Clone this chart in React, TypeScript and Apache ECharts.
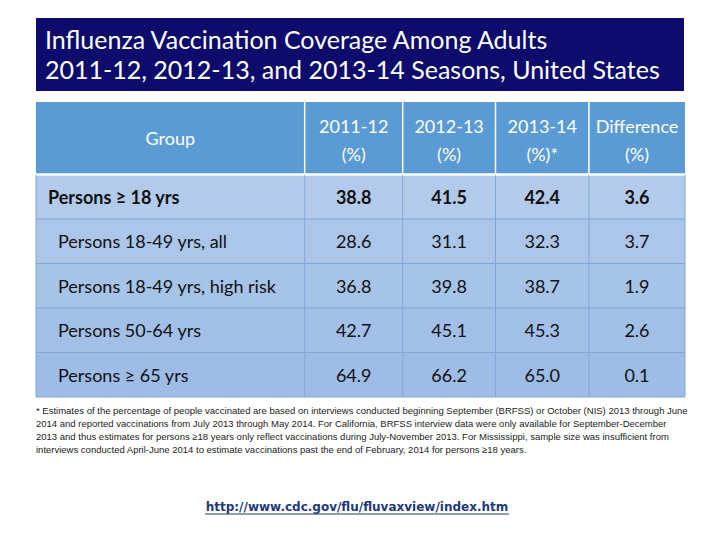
import React, { useEffect, useRef } from "react";
import * as echarts from "echarts";

// ---------- data ----------
const titleText = "Influenza Vaccination Coverage Among Adults\n2011-12, 2012-13, and 2013-14 Seasons, United States";
const columnHeaders = ["Group", "2011-12\n(%)", "2012-13\n(%)", "2013-14\n(%)*", "Difference\n(%)"];
const groups = [
  "Persons ≥ 18 yrs",
  "Persons 18-49 yrs, all",
  "Persons 18-49 yrs, high risk",
  "Persons 50-64 yrs",
  "Persons ≥ 65 yrs",
];
const season2011 = [38.8, 28.6, 36.8, 42.7, 64.9];
const season2012 = [41.5, 31.1, 39.8, 45.1, 66.2];
const season2013 = [42.4, 32.3, 38.7, 45.3, 65.0];
const difference = [3.6, 3.7, 1.9, 2.6, 0.1];
const footnoteLines = [
  "* Estimates of the percentage of people vaccinated are based on interviews conducted beginning September (BRFSS) or October (NIS) 2013 through June",
  "2014 and reported vaccinations from July 2013 through May 2014. For California, BRFSS interview data were only available for September-December",
  "2013 and thus estimates for persons ≥18 years only reflect vaccinations during July-November 2013. For Mississippi, sample size was insufficient from",
  "interviews conducted April-June 2014 to estimate vaccinations past the end of February, 2014 for persons ≥18 years.",
];
const linkText = "http://www.cdc.gov/flu/fluvaxview/index.htm";

// ---------- layout (table units) ----------
const colEdges = [0, 41.4, 56.5, 70.8, 85.2, 100];
const rowEdges = [0, 1.63, 2.63, 3.63, 4.63, 5.63, 6.63];
const bodyFills = ["#B3CBEB", "#ABC6E9", "#A6C3E8", "#A1BFE7", "#9DBCE6"];
const FONT = "Lato";

const valueCols = [season2011, season2012, season2013, difference];

function cellText(col: number, row: number): string {
  if (row === 0) return columnHeaders[col];
  if (col === 0) return groups[row - 1];
  return valueCols[col - 1][row - 1].toFixed(1);
}

const cells: number[][] = [];
for (let r = 0; r <= groups.length; r++) {
  for (let c = 0; c < columnHeaders.length; c++) cells.push([c, r]);
}

export default function App() {
  const ref = useRef<HTMLDivElement>(null);
  useEffect(() => {
    if (!ref.current) return;
    const chart = echarts.init(ref.current, null, { renderer: "svg" });
    const option: any = {
      animation: false,
      backgroundColor: "#ffffff",
      title: {
        text: titleText,
        left: 45,
        top: 24,
        padding: 0,
        textStyle: {
          color: "#ffffff",
          fontFamily: FONT,
          fontSize: 25,
          fontWeight: "normal",
          lineHeight: 30,
        },
      },
      grid: { left: 36, top: 102, width: 649, height: 295, show: false },
      xAxis: { type: "value", min: 0, max: 100, show: false },
      yAxis: { type: "value", min: 0, max: 6.63, inverse: true, show: false },
      graphic: [
        {
          type: "rect",
          z: 0,
          shape: { x: 36, y: 18, width: 648, height: 73 },
          style: { fill: "#0D0C6C" },
        },
        {
          type: "text",
          x: 36,
          y: 404,
          style: {
            text: footnoteLines.join("\n"),
            fontFamily: "Liberation Sans",
            fontSize: 9.5,
            lineHeight: 13,
            fill: "#222222",
          },
        },
        {
          type: "text",
          x: 357,
          y: 507,
          style: {
            text: linkText,
            fontFamily: "DejaVu Sans",
            fontSize: 12,
            fontWeight: "bold",
            fill: "#1F3A7A",
            align: "center",
            verticalAlign: "middle",
          },
        },
        {
          type: "line",
          shape: { x1: 205, y1: 514, x2: 509, y2: 514 },
          style: { stroke: "#1F3A7A", lineWidth: 1 },
        },
      ],
      series: [
        {
          type: "custom",
          coordinateSystem: "cartesian2d",
          data: cells,
          clip: false,
          renderItem: (params: any, api: any) => {
            const col = api.value(0);
            const row = api.value(1);
            const p0 = api.coord([colEdges[col], rowEdges[row]]);
            const p1 = api.coord([colEdges[col + 1], rowEdges[row + 1]]);
            const x = p0[0], y = p0[1], w = p1[0] - p0[0], h = p1[1] - p0[1];
            const header = row === 0;
            const line = "#80A6D7";
            const children: any[] = [
              {
                type: "rect",
                shape: { x, y, width: w, height: h },
                style: { fill: header ? "#5B9BD5" : bodyFills[row - 1] },
              },
            ];
            if (col > 0) {
              children.push({
                type: "line",
                shape: { x1: x, y1: y, x2: x, y2: y + h },
                style: { stroke: header ? "#FFFFFF" : line, lineWidth: header ? 1.5 : 1 },
              });
            }
            if (row === 1) {
              children.push({
                type: "line",
                shape: { x1: x, y1: y, x2: x + w, y2: y },
                style: { stroke: "#FFFFFF", lineWidth: 2.5 },
              });
            } else if (row > 1) {
              children.push({
                type: "line",
                shape: { x1: x, y1: y, x2: x + w, y2: y },
                style: { stroke: line, lineWidth: 1 },
              });
            }
            if (!header) {
              if (col === 0)
                children.push({ type: "line", shape: { x1: x, y1: y, x2: x, y2: y + h }, style: { stroke: line, lineWidth: 1 } });
              if (col === columnHeaders.length - 1)
                children.push({ type: "line", shape: { x1: x + w, y1: y, x2: x + w, y2: y + h }, style: { stroke: line, lineWidth: 1 } });
              if (row === groups.length)
                children.push({ type: "line", shape: { x1: x, y1: y + h, x2: x + w, y2: y + h }, style: { stroke: line, lineWidth: 1 } });
            }
            const txt = cellText(col, row);
            const bold = row === 1;
            let tx = x + w / 2;
            let align = "center";
            if (!header && col === 0) {
              tx = x + (row === 1 ? 12 : 22);
              align = "left";
            }
            children.push({
              type: "text",
              x: tx,
              y: y + h / 2 + (header && col > 0 ? 2 : 0),
              style: {
                text: txt,
                fill: header ? "#FFFFFF" : "#111111",
                fontFamily: FONT,
                fontSize: 18,
                fontWeight: bold ? "bold" : "normal",
                align,
                verticalAlign: "middle",
                lineHeight: 28,
              },
            });
            return { type: "group", children };
          },
        },
      ],
    };
    chart.setOption(option);
    return () => chart.dispose();
  }, []);
  return (
    <div
      ref={ref}
      style={{ position: "absolute", left: 0, top: 0, width: 720, height: 540, background: "#fff" }}
    />
  );
}
